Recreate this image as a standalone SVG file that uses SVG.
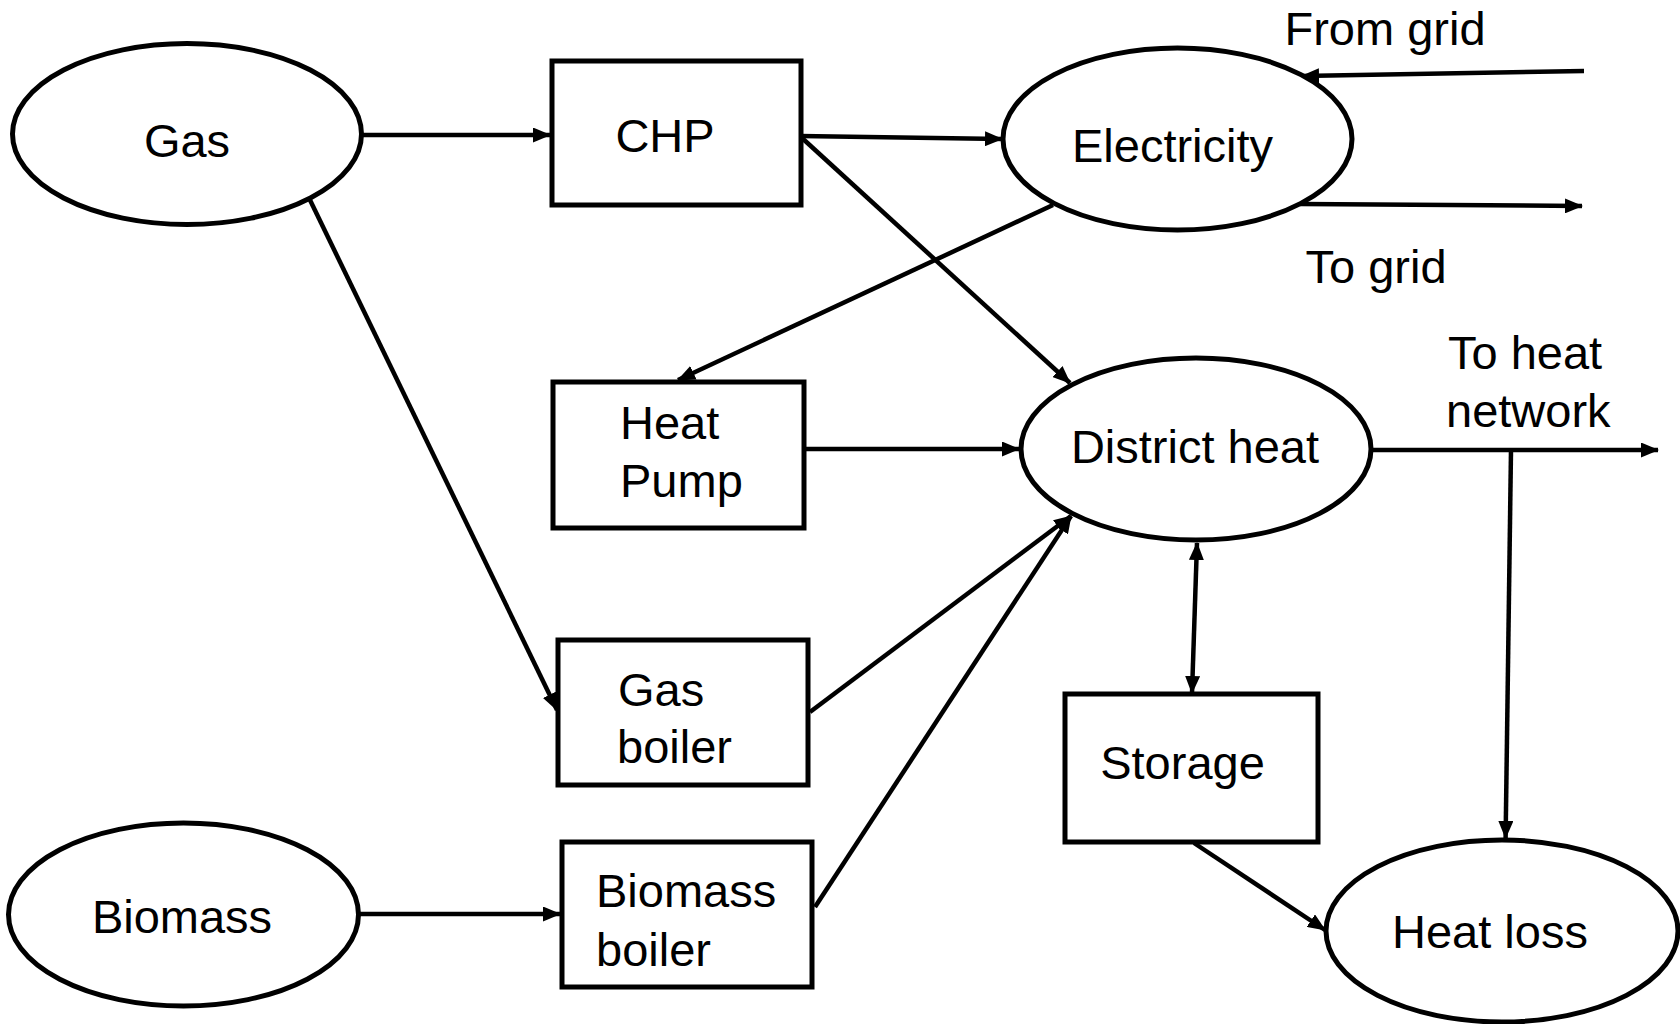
<svg xmlns="http://www.w3.org/2000/svg" width="1680" height="1024" viewBox="0 0 1680 1024">
<defs>
<style>
.shape{fill:#fff;stroke:#000;stroke-width:5}
.lbl{font-family:"Liberation Sans",Arial,sans-serif;font-size:47px;fill:#000}
.mid{text-anchor:middle}
.conn line{stroke:#000;stroke-width:4.5;fill:none}
.arr{marker-end:url(#ah)}
</style>
<marker id="ah" markerUnits="userSpaceOnUse" markerWidth="18" markerHeight="15" viewBox="0 0 18 15" refX="17" refY="7.5" orient="auto-start-reverse">
<path d="M0,0 L18,7.5 L0,15 z" fill="#000"/>
</marker>
</defs>
<rect width="1680" height="1024" fill="#fff"/>

<g id="connectors" class="conn">
<line class="arr" x1="362" y1="135" x2="550" y2="135"/>
<line class="arr" x1="310" y1="200" x2="557" y2="710"/>
<line class="arr" x1="800" y1="136" x2="1002" y2="139"/>
<line class="arr" x1="802" y1="138" x2="1070" y2="383"/>
<line class="arr" x1="1053" y1="205" x2="678" y2="380"/>
<line class="arr" x1="1584" y1="71" x2="1302" y2="76"/>
<line class="arr" x1="1300" y1="204" x2="1582" y2="206"/>
<line class="arr" x1="804" y1="449" x2="1019" y2="449"/>
<line class="arr" x1="810" y1="712" x2="1071" y2="516"/>
<line class="arr" x1="815" y1="907" x2="1071" y2="516"/>
<line class="arr" x1="358" y1="914" x2="560" y2="914"/>
<line class="arr" x1="1371" y1="450" x2="1658" y2="450"/>
<line class="arr" x1="1511" y1="450" x2="1505.6" y2="838"/>
<line class="arr" x1="1197" y1="543" x2="1192" y2="693" marker-start="url(#ah)"/>
<line class="arr" x1="1194" y1="843" x2="1325" y2="930"/>
</g>

<g id="gas">
<ellipse class="shape" cx="187" cy="134" rx="174.5" ry="90.5"/>
<text class="lbl mid" x="187" y="157">Gas</text>
</g>
<g id="chp">
<rect class="shape" x="552" y="61" width="249" height="144"/>
<text class="lbl mid" x="665" y="152">CHP</text>
</g>
<g id="electricity">
<ellipse class="shape" cx="1177.5" cy="139" rx="174.5" ry="91"/>
<text class="lbl mid" x="1172.5" y="162">Electricity</text>
</g>
<g id="from-grid">
<text class="lbl mid" x="1385" y="45">From grid</text>
</g>
<g id="to-grid">
<text class="lbl mid" x="1376" y="283">To grid</text>
</g>
<g id="heat-pump">
<rect class="shape" x="553" y="382" width="251" height="146"/>
<text class="lbl" x="620" y="439">Heat</text>
<text class="lbl" x="620" y="497">Pump</text>
</g>
<g id="district-heat">
<ellipse class="shape" cx="1196" cy="449" rx="175" ry="91"/>
<text class="lbl mid" x="1195" y="463">District heat</text>
</g>
<g id="to-heat-network">
<text class="lbl" x="1448" y="369">To heat</text>
<text class="lbl" x="1446" y="427">network</text>
</g>
<g id="gas-boiler">
<rect class="shape" x="558" y="640" width="250" height="145"/>
<text class="lbl" x="618" y="706">Gas</text>
<text class="lbl" x="617" y="763">boiler</text>
</g>
<g id="biomass">
<ellipse class="shape" cx="183.5" cy="914.5" rx="175" ry="91.5"/>
<text class="lbl mid" x="182" y="933">Biomass</text>
</g>
<g id="biomass-boiler">
<rect class="shape" x="562" y="842" width="250" height="145"/>
<text class="lbl" x="596" y="907">Biomass</text>
<text class="lbl" x="596" y="966">boiler</text>
</g>
<g id="storage">
<rect class="shape" x="1065" y="694" width="253" height="148"/>
<text class="lbl mid" x="1182.5" y="779">Storage</text>
</g>
<g id="heat-loss">
<ellipse class="shape" cx="1502" cy="931" rx="176" ry="91"/>
<text class="lbl mid" x="1490" y="948">Heat loss</text>
</g>
</svg>
